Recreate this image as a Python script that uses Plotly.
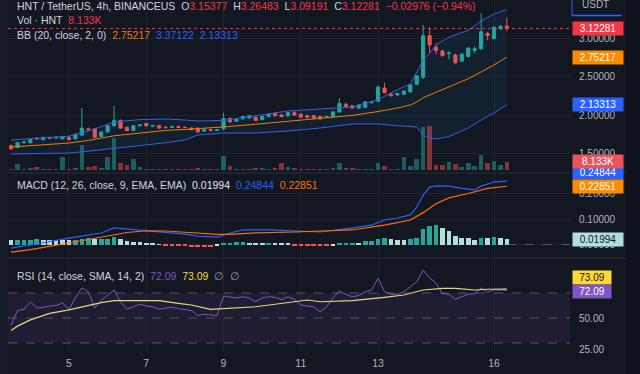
import pandas as pd
import plotly.graph_objects as go

# ---------------- data ----------------
start = "2023-10-03 12:00"
n_candles = 78

open_ = [1.60, 1.58, 1.64, 1.64, 1.70, 1.68, 1.71, 1.70, 1.69, 1.71,
         1.69, 1.74, 1.82, 1.82, 1.72, 1.78, 1.86, 1.93, 1.84, 1.80,
         1.86, 1.89, 1.855, 1.86, 1.842, 1.84, 1.85, 1.84, 1.83, 1.83,
         1.79, 1.81, 1.80, 1.82, 1.955, 1.92, 1.95, 1.96, 1.97, 1.94,
         1.98, 2.02, 2.00, 1.99, 2.03, 2.01, 1.99, 1.99, 1.98, 1.975,
         1.98, 2.04, 2.14, 2.12, 2.09, 2.10, 2.16, 2.18, 2.35, 2.27,
         2.26, 2.27, 2.30, 2.40, 2.49, 3.03, 2.88, 2.83, 2.80, 2.78,
         2.70, 2.76, 2.84, 2.86, 3.06, 2.99, 3.12, 3.15377]
high = [1.62, 1.65, 1.66, 1.69, 1.71, 1.72, 1.72, 1.72, 1.73, 1.72,
        1.76, 2.09, 1.84, 1.83, 1.79, 1.87, 2.12, 1.94, 1.85, 1.87,
        1.88, 1.90, 1.87, 1.87, 1.85, 1.86, 1.86, 1.85, 1.84, 1.84,
        1.82, 1.82, 1.82, 2.03, 1.97, 1.95, 1.99, 2.00, 1.98, 1.99,
        2.02, 2.04, 2.01, 2.04, 2.05, 2.02, 2.00, 2.00, 1.99, 1.99,
        2.05, 2.22, 2.16, 2.13, 2.14, 2.18, 2.17, 2.39, 2.42, 2.29,
        2.29, 2.32, 2.40, 2.52, 3.17, 3.14, 2.93, 2.85, 2.83, 2.80,
        2.80, 2.88, 2.89, 3.32, 3.08, 3.15, 3.17, 3.26483]
low = [1.55, 1.57, 1.63, 1.63, 1.68, 1.67, 1.69, 1.69, 1.68, 1.67,
       1.68, 1.73, 1.80, 1.70, 1.71, 1.77, 1.85, 1.82, 1.79, 1.79,
       1.85, 1.85, 1.85, 1.82, 1.83, 1.83, 1.83, 1.83, 1.80, 1.77,
       1.78, 1.79, 1.79, 1.80, 1.90, 1.91, 1.94, 1.95, 1.92, 1.93,
       1.97, 1.98, 1.97, 1.98, 1.99, 1.96, 1.96, 1.95, 1.94, 1.97,
       1.97, 2.03, 2.10, 2.08, 2.08, 2.09, 2.15, 2.17, 2.28, 2.24,
       2.25, 2.26, 2.29, 2.39, 2.47, 2.80, 2.79, 2.76, 2.72, 2.66,
       2.69, 2.75, 2.80, 2.85, 2.97, 2.98, 3.10, 3.09191]
close = [1.56, 1.64, 1.65, 1.68, 1.69, 1.71, 1.70, 1.71, 1.72, 1.68,
         1.75, 1.83, 1.81, 1.71, 1.78, 1.86, 1.93, 1.83, 1.80, 1.86,
         1.87, 1.86, 1.86, 1.83, 1.835, 1.85, 1.84, 1.838, 1.81, 1.78,
         1.81, 1.80, 1.81, 1.955, 1.91, 1.94, 1.98, 1.99, 1.93, 1.98,
         2.01, 1.99, 1.98, 2.03, 2.00, 1.97, 1.97, 1.96, 1.95, 1.98,
         2.04, 2.15, 2.11, 2.09, 2.13, 2.17, 2.165, 2.36, 2.29, 2.25,
         2.28, 2.31, 2.39, 2.51, 3.03, 2.91, 2.84, 2.77, 2.805, 2.68,
         2.79, 2.87, 2.86, 3.08, 3.03, 3.14, 3.15, 3.12281]
volume_k = [1.2, 6, 1.5, 2, 3, 1.2, 1, 1.3, 13, 1.5,
            2.5, 25, 3, 4, 2, 13, 32, 7, 5, 11,
            3, 1.5, 1, 1.5, 1, 1.2, 1, 1, 1.5, 2,
            1, 1, 1.2, 14, 4, 1, 1.5, 1.5, 2, 2.5,
            1.5, 2, 7.5, 3, 2, 1.5, 1.5, 1.2, 1.5, 1,
            2, 7, 2, 2, 1, 1.2, 1, 7, 4, 1.5,
            1.5, 13, 4, 11, 43, 44, 5, 5, 8, 6,
            3, 7, 4, 15, 7, 9, 5, 8.133]

bb_idx = [0, 4, 9, 12, 16, 20, 24, 27, 29, 33, 38, 43, 48, 53, 57, 60, 62,
          63, 64, 65, 66, 68, 71, 73, 75, 77]
bb_upper = [1.675, 1.70, 1.725, 1.79, 1.909, 1.94, 1.948, 1.935, 1.922, 1.93,
            1.99, 2.052, 2.078, 2.104, 2.20, 2.33, 2.40, 2.55, 2.71, 2.80,
            2.91, 3.01, 3.10, 3.22, 3.31, 3.37122]
bb_basis = [1.584, 1.61, 1.636, 1.67, 1.73, 1.765, 1.80, 1.812, 1.822, 1.845,
            1.88, 1.918, 1.952, 1.995, 2.045, 2.09, 2.13, 2.17, 2.225, 2.26,
            2.30, 2.364, 2.47, 2.56, 2.65, 2.75217]
bb_lower = [1.494, 1.50, 1.506, 1.53, 1.565, 1.60, 1.64, 1.675, 1.74, 1.766,
            1.766, 1.792, 1.831, 1.883, 1.883, 1.86, 1.85, 1.844, 1.74, 1.70,
            1.688, 1.72, 1.83, 1.935, 2.026, 2.13313]

macd_idx = [0, 3, 9, 12, 14, 16, 18, 21, 24, 27, 29, 32, 34, 36, 40, 44, 48,
            53, 56, 58, 60, 62, 63, 64, 65, 66, 68, 70, 72, 73, 75, 77]
macd_line = [-0.014, -0.002, 0.025, 0.037, 0.045, 0.065, 0.061, 0.053, 0.049,
             0.041, 0.033, 0.029, 0.045, 0.057, 0.057, 0.053, 0.049, 0.065,
             0.076, 0.096, 0.104, 0.116, 0.147, 0.194, 0.225, 0.23, 0.229,
             0.22, 0.214, 0.229, 0.245, 0.24844]
signal_idx = [0, 3, 9, 14, 16, 18, 21, 24, 27, 32, 34, 38, 44, 48, 53, 58, 62,
              64, 66, 68, 71, 74, 77]
signal_line = [-0.03, -0.02, 0.006, 0.029, 0.038, 0.047, 0.054, 0.053, 0.048,
               0.040, 0.040, 0.046, 0.049, 0.052, 0.057, 0.076, 0.096, 0.125,
               0.160, 0.183, 0.200, 0.220, 0.22851]
macd_hist = [0.0169, 0.0188, 0.0192, 0.0196, 0.0200, 0.0196, 0.0192, 0.0188, 0.0180, 0.0176,
             0.0196, 0.0235, 0.0239, 0.0200, 0.0224, 0.0235, 0.0286, 0.0224, 0.0129, 0.0106,
             0.0090, 0.0067, 0.0039, 0.0012, -0.0027, -0.0039, -0.0043, -0.0051, -0.0086, -0.0090,
             -0.0092, -0.0094, -0.0067, 0.0027, 0.0067, 0.0086, 0.0090, 0.0067, 0.0066, 0.0063,
             0.0070, 0.0039, 0.0037, 0.0035, -0.0027, -0.0035, -0.0039, -0.0041, -0.0043, -0.0045,
             -0.0030, 0.0063, 0.0067, 0.0075, 0.0071, 0.0125, 0.0129, 0.0231, 0.0239, 0.0224,
             0.0196, 0.0192, 0.0200, 0.0263, 0.0616, 0.0745, 0.0750, 0.0639, 0.0522, 0.0353,
             0.0263, 0.0259, 0.0169, 0.0263, 0.0247, 0.0286, 0.0263, 0.01994]

rsi = [44, 56, 57, 63, 58, 58.5, 59.6, 60, 62, 57,
       66, 74, 71, 58, 64, 68, 72.4, 63, 57, 59,
       61, 59.6, 59, 57, 58, 58.7, 57.5, 57, 56, 52,
       53, 52.4, 52, 67.6, 67, 66, 67, 66, 63, 66,
       67, 66.6, 64.6, 67, 65, 60.4, 59.6, 59, 55, 59,
       66, 71.5, 69, 67, 68, 71, 72.5, 81.7, 71, 69,
       69, 71, 75, 79, 88.4, 82, 78, 69.5, 69, 65,
       67, 69, 69.5, 74, 70.6, 72.5, 72.5, 72.09]
rsi_ma_idx = [0, 1, 3, 6, 9, 11, 14, 16, 19, 23, 26, 28, 31, 34, 38, 41, 44,
              46, 48, 53, 58, 61, 64, 67, 69, 72, 74, 77]
rsi_ma = [40, 43.5, 48.5, 53.7, 56.5, 59, 62.3, 63.9, 63.9, 63.9, 61.7, 60.4,
          56.9, 57.7, 59, 61, 63, 64.4, 63, 63.9, 66.5, 68.4, 72.4, 73.7, 73.7,
          72.4, 73, 73.09]

tick_days = [5, 7, 9, 11, 13, 16]
tick_labels = ["5", "7", "9", "11", "13", "16"]
price_ticks = [1.5, 2.0, 2.5, 3.0]
macd_ticks = [0.0, 0.1, 0.2]
rsi_ticks = [25, 50, 75]

# ---------------- styling ----------------
BG = "#131722"
GRID = "rgba(42,46,57,0.55)"
TXT = "#d1d4dc"
AX = "#b2b5be"
UP = "#26a69a"
DN = "#ef5350"
RED = "#f23645"
BLUE = "#2962ff"
ORANGE = "#fb8c00"
PURPLE = "#7e57c2"
YELLOW = "#fdd835"
FONT = "Liberation Sans"
FS = 10

W, H = 640, 374
ML, MR, MT, MB = 8, 70, 0, 22
PW, PH = W - ML - MR, H - MT - MB


def py(px):  # pixel row -> paper y
    return (PH - (px - MT)) / PH


def pxx(px):  # pixel column -> paper x
    return (px - ML) / PW


dates = pd.date_range(start, periods=n_candles, freq="4h")
step = pd.Timedelta(hours=4)
x_range = [dates[0] - 0.47 * step, dates[0] + 86.8 * step]
tick_vals = [pd.Timestamp(2023, 10, d) for d in tick_days]

fig = go.Figure()

# volume (base axis y, drawn beneath price)
vol_cols = ["rgba(38,166,154,0.5)" if c >= o else "rgba(239,83,80,0.5)"
            for o, c in zip(open_, close)]
fig.add_trace(go.Bar(x=dates, y=volume_k, marker=dict(color=vol_cols, line=dict(width=0)),
                     width=step.total_seconds() * 1000 * 0.72, xaxis="x", yaxis="y",
                     hoverinfo="skip"))

# Bollinger bands (y2)
bbx = [dates[i] for i in bb_idx]
fig.add_trace(go.Scatter(x=bbx, y=bb_upper, mode="lines", line=dict(color="#3a5ee0", width=1),
                         yaxis="y2"))
fig.add_trace(go.Scatter(x=bbx, y=bb_lower, mode="lines", line=dict(color="#3a5ee0", width=1),
                         fill="tonexty", fillcolor="rgba(33,150,243,0.07)", yaxis="y2"))
fig.add_trace(go.Scatter(x=bbx, y=bb_basis, mode="lines", line=dict(color="#f57c00", width=1),
                         yaxis="y2"))

fig.add_trace(go.Candlestick(x=dates, open=open_, high=high, low=low, close=close,
                             increasing=dict(line=dict(color=UP, width=1), fillcolor=UP),
                             decreasing=dict(line=dict(color=DN, width=1), fillcolor=DN),
                             whiskerwidth=0, yaxis="y2"))

# MACD (y3)
hist_cols = []
for i, v in enumerate(macd_hist):
    prev = macd_hist[i - 1] if i > 0 else v
    if v >= 0:
        hist_cols.append("#26a69a" if v > prev else "#b2dfdb")
    else:
        hist_cols.append("#ffcdd2" if v > prev else "#ff5252")
fig.add_trace(go.Bar(x=dates, y=macd_hist, marker=dict(color=hist_cols, line=dict(width=0)),
                     width=step.total_seconds() * 1000 * 0.72, yaxis="y3"))
fig.add_trace(go.Scatter(x=[dates[i] for i in macd_idx], y=macd_line, mode="lines",
                         line=dict(color=BLUE, width=1.2), yaxis="y3"))
fig.add_trace(go.Scatter(x=[dates[i] for i in signal_idx], y=signal_line, mode="lines",
                         line=dict(color="#ff6d00", width=1.2), yaxis="y3"))

# RSI (y4)
fig.add_trace(go.Scatter(x=dates, y=rsi, mode="lines", line=dict(color=PURPLE, width=1),
                         yaxis="y4"))
fig.add_trace(go.Scatter(x=[dates[i] for i in rsi_ma_idx], y=rsi_ma, mode="lines",
                         line=dict(color="#e9d483", width=1.2), yaxis="y4"))

shapes = [
    # side strips of the chart window
    dict(type="rect", xref="paper", yref="paper", x0=pxx(0), x1=pxx(8), y0=py(374), y1=py(0),
         fillcolor="#191d29", line=dict(width=0), layer="below"),
    dict(type="rect", xref="paper", yref="paper", x0=pxx(626), x1=pxx(640), y0=py(374), y1=py(0),
         fillcolor="#0f121a", line=dict(width=0), layer="below"),
    dict(type="rect", xref="paper", yref="y4", x0=0, x1=1, y0=30, y1=70,
         fillcolor="rgba(126,87,194,0.10)", line=dict(width=0), layer="below"),
]
for lvl in (30, 50, 70):
    shapes.append(dict(type="line", xref="paper", yref="y4", x0=0, x1=1, y0=lvl, y1=lvl,
                       line=dict(color="rgba(120,123,134,0.6)", width=1, dash="dash")))
shapes.append(dict(type="line", xref="paper", yref="y2", x0=0, x1=1, y0=close[-1], y1=close[-1],
                   line=dict(color=RED, width=1, dash="dot")))
shapes.append(dict(type="line", xref="x", yref="y3", x0=dates[-1], x1=x_range[1], y0=0, y1=0,
                   line=dict(color="rgba(120,123,134,0.6)", width=1, dash="dash")))
# pane separators
for sep in (173, 258):
    shapes.append(dict(type="line", xref="paper", yref="paper", x0=pxx(8), x1=pxx(626),
                       y0=py(sep), y1=py(sep), line=dict(color="#2a2e39", width=1)))
# USDT selector frame
shapes.append(dict(type="line", xref="paper", yref="paper", x0=pxx(572), x1=pxx(622),
                   y0=py(15.5), y1=py(15.5), line=dict(color=BLUE, width=1.5)))
shapes.append(dict(type="line", xref="paper", yref="paper", x0=pxx(572), x1=pxx(572),
                   y0=py(0), y1=py(15.5), line=dict(color=BLUE, width=1)))


def red(s):
    return f"<span style='color:{RED}'>{s}</span>"


def col(s, c):
    return f"<span style='color:{c}'>{s}</span>"


sp = "\u00a0\u00a0"
header1 = ("HNT / TetherUS, 4h, BINANCEUS" + sp + "O" + red("3.15377") + sp + "H" + red("3.26483")
           + sp + "L" + red("3.09191") + sp + "C" + red("3.12281") + sp + red("\u22120.02976 (\u22120.94%)"))
header2 = "Vol · HNT" + sp + red("8.133K")
header3 = ("BB (20, close, 2, 0)" + sp + col("2.75217", "#f57c00") + sp + col("3.37122", BLUE)
           + sp + col("2.13313", BLUE))
header_macd = ("MACD (12, 26, close, 9, EMA, EMA)" + sp + col("0.01994", "#e6e8ee") + sp
               + col("0.24844", BLUE) + sp + col("0.22851", "#ff6d00"))
header_rsi = ("RSI (14, close, SMA, 14, 2)" + sp + col("72.09", PURPLE) + sp
              + col("73.09", YELLOW) + sp + col("\u2205" + sp + "\u2205", "#9598a1"))

ann = []
for txt, ypx in ((header1, 6.5), (header2, 20.5), (header3, 34.5), (header_macd, 185), (header_rsi, 275.5)):
    ann.append(dict(text=txt, xref="paper", yref="paper", x=pxx(15), y=py(ypx), xanchor="left",
                    yanchor="middle", showarrow=False, font=dict(family=FONT, size=10.5, color=TXT)))
ann.append(dict(text="USDT", xref="paper", yref="paper", x=pxx(580), y=py(5), xanchor="left",
                yanchor="middle", showarrow=False, font=dict(family=FONT, size=FS, color=AX)))


def box(val, yref, bg, fg="#ffffff", yshift=0, width=50, text=None):
    ann.append(dict(text=text or val, xref="paper", yref=yref, x=pxx(572), y=float(val.rstrip("K")),
                    xanchor="left", yanchor="middle", showarrow=False, bgcolor=bg, width=width,
                    height=13, borderpad=0, yshift=yshift, align="center",
                    font=dict(family=FONT, size=FS, color=fg)))


box("0.24844", "y3", BLUE, yshift=9)
box("8.133K", "y", "#e8555c")
box("3.12281", "y2", RED)
box("2.75217", "y2", ORANGE)
box("2.13313", "y2", BLUE)
box("0.22851", "y3", ORANGE)
box("0.01994", "y3", "#b2dfdb", fg="#131722")
box("73.09", "y4", YELLOW, fg="#131722", yshift=12, width=38)
box("72.09", "y4", PURPLE, yshift=-1, width=38)

axis_common = dict(showline=False, zeroline=False, gridcolor=GRID, gridwidth=1,
                   tickfont=dict(family=FONT, size=FS, color=AX), ticks="",
                   ticklabelstandoff=8)

fig.update_layout(
    width=W, height=H, margin=dict(l=ML, r=MR, t=MT, b=MB),
    paper_bgcolor=BG, plot_bgcolor=BG, showlegend=False, bargap=0,
    shapes=shapes, annotations=ann,
    xaxis=dict(type="date", range=x_range, anchor="y4", tickvals=tick_vals, ticktext=tick_labels,
               showgrid=True, gridcolor=GRID, showline=False, zeroline=False, ticks="",
               ticklabelstandoff=3,
               tickfont=dict(family=FONT, size=10.5, color=AX), rangeslider=dict(visible=False)),
    yaxis=dict(domain=[py(172), 1], range=[-2, 170], visible=False, showgrid=False, fixedrange=True),
    yaxis2=dict(overlaying="y", side="right", range=[1.2597, 3.4935], tickvals=price_ticks,
                tickformat=".5f", **axis_common),
    yaxis3=dict(domain=[py(257), py(174)], anchor="x", side="right", range=[-0.049, 0.2765],
                tickvals=macd_ticks, tickformat=".5f", **axis_common),
    yaxis4=dict(domain=[0, py(259)], anchor="x", side="right", range=[22.8, 97.2],
                tickvals=rsi_ticks, tickformat=".2f", **dict(axis_common, showgrid=False)),
)

fig.write_html("out.html", config={"displayModeBar": False},
               post_script="document.body.style.margin='0';")
